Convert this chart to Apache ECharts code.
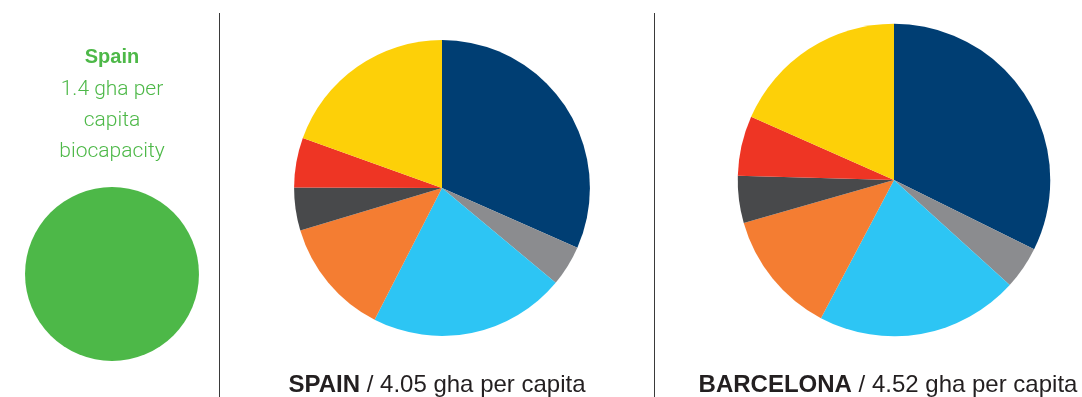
<!DOCTYPE html>
<html>
<head>
<meta charset="utf-8">
<script src="https://cdn.jsdelivr.net/npm/echarts@6/dist/echarts.min.js"></script>
<style>
  html, body { margin: 0; padding: 0; background: #ffffff; }
  #chart { width: 1082px; height: 397px; }
</style>
</head>
<body>
<div id="chart"></div>
<script>
// Footprint components (gha per capita), clockwise from 12 o'clock
const components = ['Carbon', 'Built-up land', 'Cropland', 'Grazing land', 'Forest', 'Fishing grounds', 'Other'];
const componentColors = ['#003e73', '#8b8c8f', '#2dc5f4', '#f47d32', '#48494b', '#ee3524', '#fdd008'];
const spainValues = [1.28, 0.18, 0.87, 0.52, 0.19, 0.22, 0.79];
const barcelonaValues = [1.46, 0.20, 0.95, 0.58, 0.22, 0.28, 0.83];
const biocapacityName = 'Spain';
const biocapacityValue = 1.4;
const spainName = 'SPAIN';
const barcelonaName = 'BARCELONA';

// circle areas are proportional to gha
const PX_PER_ROOT_GHA = 73.5;
const radiusFor = v => PX_PER_ROOT_GHA * Math.sqrt(v);
const sum = a => a.reduce((s, v) => s + v, 0);

const spainTotal = sum(spainValues);
const barcelonaTotal = sum(barcelonaValues);

const FONT = '"Liberation Sans", Arial, Helvetica, sans-serif';
const LIGHT_FONT = 'Roboto, "Liberation Sans", Arial, sans-serif';
const GREEN = '#4db848';
const INK = '#231f20';

function pieSeries(values, center, total) {
  return {
    type: 'pie',
    center: center,
    radius: [0, radiusFor(total)],
    startAngle: 90,
    clockwise: true,
    label: { show: false },
    labelLine: { show: false },
    emphasis: { disabled: true },
    itemStyle: { borderWidth: 0 },
    data: values.map((v, i) => ({ name: components[i], value: v, itemStyle: { color: componentColors[i] } }))
  };
}

function caption(x, name, total) {
  return {
    type: 'text', x: x, y: 385,
    style: {
      text: '{b|' + name + '} / ' + total.toFixed(2) + ' gha per capita',
      fill: INK, font: '24px ' + FONT, textAlign: 'center', textVerticalAlign: 'middle',
      rich: { b: { fontWeight: 'bold', fontSize: 24, fontFamily: FONT, fill: INK } }
    }
  };
}

const chart = echarts.init(document.getElementById('chart'), null, { renderer: 'canvas' });

chart.setOption({
  animation: false,
  backgroundColor: '#ffffff',
  series: [
    {
      type: 'pie',
      center: [112, 274],
      radius: [0, radiusFor(biocapacityValue)],
      label: { show: false },
      labelLine: { show: false },
      emphasis: { disabled: true },
      data: [{ name: biocapacityName, value: biocapacityValue, itemStyle: { color: GREEN } }]
    },
    pieSeries(spainValues, [442, 188], spainTotal),
    pieSeries(barcelonaValues, [894, 180], barcelonaTotal)
  ],
  graphic: [
    { type: 'line', shape: { x1: 219.5, y1: 13, x2: 219.5, y2: 397 }, style: { stroke: '#3a3a3a', lineWidth: 1 } },
    { type: 'line', shape: { x1: 654.5, y1: 13, x2: 654.5, y2: 397 }, style: { stroke: '#3a3a3a', lineWidth: 1 } },
    {
      type: 'text', x: 112, y: 57,
      style: { text: biocapacityName, fill: GREEN, font: 'bold 20px ' + FONT, textAlign: 'center', textVerticalAlign: 'middle' }
    },
    {
      type: 'text', x: 112, y: 74,
      style: { text: biocapacityValue.toFixed(1) + ' gha per\ncapita\nbiocapacity', fill: GREEN, font: '300 21px ' + LIGHT_FONT,
        lineHeight: 31, textAlign: 'center', textVerticalAlign: 'top' }
    },
    caption(437, spainName, spainTotal),
    caption(888, barcelonaName, barcelonaTotal)
  ]
});
</script>
</body>
</html>
